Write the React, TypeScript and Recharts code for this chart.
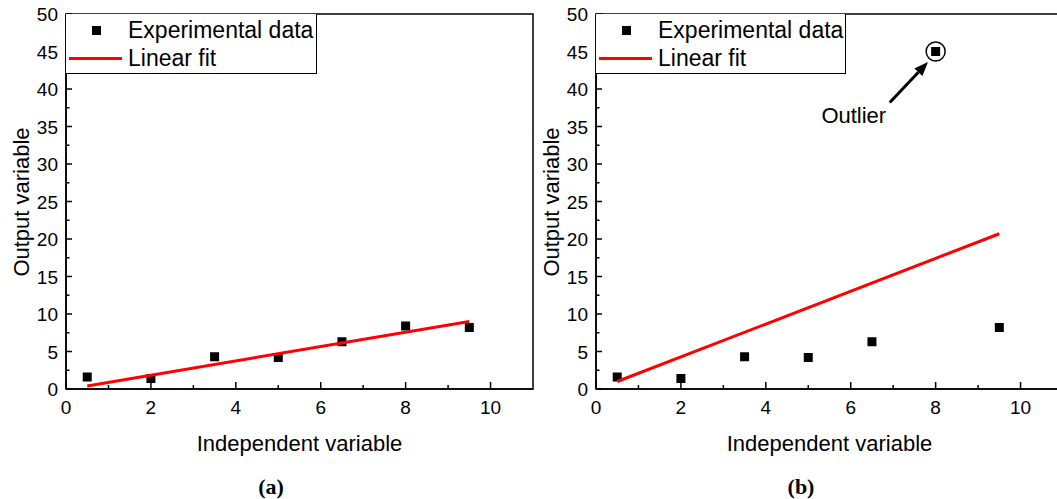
import React from 'react';
import {
  ComposedChart,
  Scatter,
  XAxis,
  YAxis,
  ReferenceArea,
  ReferenceDot,
  ReferenceLine,
} from 'recharts';

// measured points, shared x positions
const xValues = [0.5, 2, 3.5, 5, 6.5, 8, 9.5];
const yClean = [1.6, 1.4, 4.3, 4.2, 6.3, 8.4, 8.2];
const yWithOutlier = [1.6, 1.4, 4.3, 4.2, 6.3, 45, 8.2];

// linear fit end points
const fitX = [0.5, 9.5];
const fitCleanY = [0.4, 9.0];
const fitOutlierY = [1.0, 20.7];

// outlier annotation (data units)
const outlierPoint = { x: 8, y: 45 };
const arrowFrom = { x: 6.92, y: 38.2 };
const arrowTo = { x: 7.82, y: 43.6 };

// axis ticks (minor ticks included, labels only on majors)
const xTicks = [0, 1, 2, 3, 4, 5, 6, 7, 8, 9, 10];
const yTicks = [0, 2.5, 5, 7.5, 10, 12.5, 15, 17.5, 20, 22.5, 25, 27.5, 30, 32.5, 35, 37.5, 40, 42.5, 45, 47.5, 50];

const SANS = '"Liberation Sans", Arial, sans-serif';
const RED = '#ff0000';

const CHART_W = 545;
const CHART_H = 499;
const PLOT_LEFT = 66;
const PLOT_TOP = 14;
const PLOT_BOTTOM = 389;

const toRows = (xs: number[], ys: number[]) => xs.map((x, i) => ({ x, y: ys[i] }));

const XTick = ({ x, payload }: any) => {
  const v = payload.value;
  const major = v % 2 === 0;
  return (
    <g>
      <line x1={x} x2={x} y1={PLOT_BOTTOM} y2={PLOT_BOTTOM - (major ? 7 : 4)} stroke="#000" strokeWidth={1.5} />
      {major && (
        <text x={x} y={414} textAnchor="middle" fontSize={19} fontFamily={SANS} fill="#000">
          {v}
        </text>
      )}
    </g>
  );
};

const YTick = ({ y, payload }: any) => {
  const v = payload.value;
  const major = v % 5 === 0;
  return (
    <g>
      <line x1={PLOT_LEFT} x2={PLOT_LEFT + (major ? 6 : 3.5)} y1={y} y2={y} stroke="#000" strokeWidth={1.5} />
      {major && (
        <text x={58} y={y + 7} textAnchor="end" fontSize={19} fontFamily={SANS} fill="#000">
          {v}
        </text>
      )}
    </g>
  );
};

const SquareMark = ({ cx, cy }: any) => <rect x={cx - 4.5} y={cy - 4.5} width={9} height={9} fill="#000" />;
const NoMark = () => <g />;

const OutlierArrow = ({ x1, y1, x2, y2 }: any) => {
  const dx = x2 - x1;
  const dy = y2 - y1;
  const len = Math.sqrt(dx * dx + dy * dy);
  const ux = dx / len;
  const uy = dy / len;
  const headLen = 14;
  const headHalf = 5.5;
  const bx = x2 - ux * headLen;
  const by = y2 - uy * headLen;
  return (
    <g>
      <line x1={x1} y1={y1} x2={bx} y2={by} stroke="#000" strokeWidth={3} />
      <polygon
        points={`${x2},${y2} ${bx - uy * headHalf},${by + ux * headHalf} ${bx + uy * headHalf},${by - ux * headHalf}`}
        fill="#000"
      />
      <text x={x1 - 36} y={y1 + 20} textAnchor="middle" fontSize={22} fontFamily={SANS} fill="#000">
        Outlier
      </text>
    </g>
  );
};

const Legend = ({ width }: { width: number }) => (
  <div
    style={{
      position: 'absolute',
      left: PLOT_LEFT,
      top: PLOT_TOP,
      width,
      height: 60,
      boxSizing: 'border-box',
      border: '1.5px solid #000',
      borderLeft: 'none',
      borderTop: 'none',
      background: '#fff',
      fontFamily: SANS,
      fontSize: 23,
      lineHeight: 1,
    }}
  >
    <div style={{ position: 'absolute', left: 26, top: 12, width: 9, height: 9, background: '#000' }} />
    <div style={{ position: 'absolute', left: 62, top: 5.4, whiteSpace: 'nowrap' }}>Experimental data</div>
    <div style={{ position: 'absolute', left: 3, top: 42.5, width: 53, height: 3, background: RED }} />
    <div style={{ position: 'absolute', left: 62, top: 33.4, whiteSpace: 'nowrap' }}>Linear fit</div>
  </div>
);

const Panel = ({
  left,
  points,
  fitY,
  tag,
  outlier,
}: {
  left: number;
  points: { x: number; y: number }[];
  fitY: number[];
  tag: string;
  outlier?: boolean;
}) => (
  <div style={{ position: 'absolute', left, top: 0, width: CHART_W, height: CHART_H }}>
    <ComposedChart width={CHART_W} height={CHART_H} margin={{ top: PLOT_TOP, right: 12, bottom: 80, left: 6 }}>
      <XAxis
        type="number"
        dataKey="x"
        domain={[0, 11]}
        ticks={xTicks}
        interval={0}
        tick={<XTick />}
        tickLine={false}
        axisLine={{ stroke: '#000', strokeWidth: 1.5 }}
        height={30}
        allowDataOverflow
      />
      <YAxis
        type="number"
        dataKey="y"
        domain={[0, 50]}
        ticks={yTicks}
        interval={0}
        tick={<YTick />}
        tickLine={false}
        axisLine={{ stroke: '#000', strokeWidth: 1.5 }}
        width={60}
        allowDataOverflow
      />
      <ReferenceArea x1={0} x2={11} y1={0} y2={50} fill="none" fillOpacity={0} stroke="#000" strokeWidth={1.5} />
      <Scatter data={points} shape={<SquareMark />} isAnimationActive={false} />
      <Scatter
        data={toRows(fitX, fitY)}
        shape={<NoMark />}
        line={{ stroke: RED, strokeWidth: 3 }}
        stroke={RED}
        isAnimationActive={false}
      />
      {outlier && (
        <ReferenceDot x={outlierPoint.x} y={outlierPoint.y} r={9.5} fill="none" stroke="#000" strokeWidth={1.5} />
      )}
      {outlier && (
        <ReferenceLine segment={[arrowFrom, arrowTo]} shape={(p: any) => <OutlierArrow {...p} />} />
      )}
    </ComposedChart>
    <Legend width={outlier ? 250 : 251} />
    <div
      style={{
        position: 'absolute',
        left: 22,
        top: (PLOT_TOP + PLOT_BOTTOM) / 2,
        transform: 'translate(-50%, -50%) rotate(-90deg)',
        whiteSpace: 'nowrap',
        fontFamily: SANS,
        fontSize: 22,
        lineHeight: 1,
      }}
    >
      Output variable
    </div>
    <div
      style={{
        position: 'absolute',
        left: 299.5,
        top: 432.5,
        transform: 'translateX(-50%)',
        whiteSpace: 'nowrap',
        fontFamily: SANS,
        fontSize: 22,
        lineHeight: 1,
      }}
    >
      Independent variable
    </div>
    <div
      style={{
        position: 'absolute',
        left: 271,
        top: 476,
        transform: 'translateX(-50%)',
        whiteSpace: 'nowrap',
        fontFamily: '"Liberation Serif", "Times New Roman", serif',
        fontWeight: 'bold',
        fontSize: 22,
        lineHeight: 1,
      }}
    >
      {tag}
    </div>
  </div>
);

export default function App() {
  return (
    <div
      style={{
        position: 'fixed',
        left: 0,
        top: 0,
        width: 1057,
        height: 499,
        overflow: 'hidden',
        background: '#fff',
      }}
    >
      <Panel left={0} points={toRows(xValues, yClean)} fitY={fitCleanY} tag="(a)" />
      <Panel left={530} points={toRows(xValues, yWithOutlier)} fitY={fitOutlierY} tag="(b)" outlier />
    </div>
  );
}
